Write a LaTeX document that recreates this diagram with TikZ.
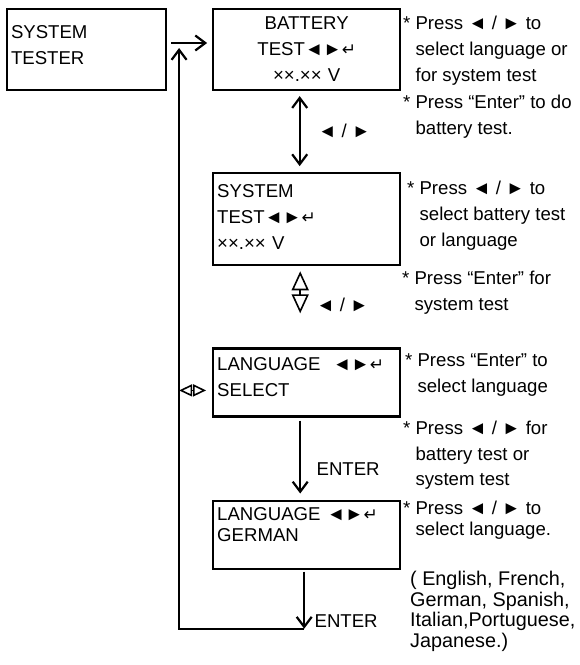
\documentclass[tikz,border=0pt]{standalone}
\usepackage{fontspec}
\setmainfont{Liberation Sans}
\newfontfamily\symfont{DejaVu Sans}
\usetikzlibrary{arrows.meta,positioning}
\newcommand{\kleft}{◄}
\newcommand{\kright}{►}
\newcommand{\kenter}{{\symfont\fontsize{17pt}{17pt}\selectfont ↵}}
\newcommand{\ind}{\hphantom{* }}

\begin{document}
\begin{tikzpicture}[
  x=1pt, y=-1pt,
  font=\fontsize{18.6pt}{26pt}\selectfont,
  node distance=81pt and 45pt,
  screen/.style={draw, line width=2.2pt, minimum height=68pt, text width=179pt, inner xsep=4pt, inner ysep=0pt, align=left},
  note/.style={anchor=north west, align=left, inner sep=0pt},
  arrow/.style={line width=2.2pt, -{Straight Barb[length=10pt,width=15pt]}},
  twoway/.style={line width=2.2pt, {Straight Barb[length=10pt,width=15pt]}-{Straight Barb[length=10pt,width=15pt]}},
  hollow/.style={line width=1.6pt, {Triangle[open,length=19pt,width=17pt]}-{Triangle[open,length=19pt,width=17pt]}},
  hollowh/.style={line width=1.6pt, {Triangle[open,length=13pt,width=12pt]}-{Triangle[open,length=13pt,width=12pt]}}
]
\useasboundingbox (0,0) rectangle (580,665);

% screens
\node[screen, text width=151pt, minimum height=81pt] (tester) at (86.5,49.5) {SYSTEM\\TESTER\\[-17pt]~};
\node[screen, minimum height=81pt, align=center, right=of tester] (battery) {BATTERY\\TEST\kleft\kright\kenter\\××.×× V};
\node[screen, minimum height=92pt, below=of battery] (system) {SYSTEM\\TEST\kleft\kright\kenter\\××.×× V\\[-21pt]~};
\node[screen, below=of system] (langsel) {LANGUAGE~~\kleft\kright\kenter\\SELECT\\[-16pt]~};
\node[screen, below=82pt of langsel, font=\fontsize{18.6pt}{21pt}\selectfont] (langger) {LANGUAGE \kleft\kright\kenter\\GERMAN\\[0pt]~};

% notes
\node[note] (note1a) at (403,16) {* Press \kleft\ / \kright\ to\\\ind select language or\\\ind for system test};
\node[note] (note1b) at (403,95) {* Press “Enter” to do\\\ind battery test.};
\node[note] (note2a) at (407,181) {* Press \kleft\ / \kright\ to\\\ind select battery test\\\ind or language};
\node[note] (note2b) at (402,271) {* Press “Enter” for\\\ind system test};
\node[note] (note3a) at (405,353) {* Press “Enter” to\\\ind select language};
\node[note] (note3b) at (403,421) {* Press \kleft\ / \kright\ for\\\ind battery test or\\[-1pt]\ind system test};
\node[note, font=\fontsize{18.6pt}{20.5pt}\selectfont] (note4a) at (403,501) {* Press \kleft\ / \kright\ to\\\ind select language.};
\node[note, font=\fontsize{19.8pt}{20.7pt}\selectfont] (note4b) at (410,571) {( English, French,\\German, Spanish,\\Italian,Portuguese,\\Japanese.)};

% loop points
\coordinate (rettop) at ([xshift=12pt,yshift=1.5pt]tester.east);
\coordinate (retbot) at ([xshift=-2.5pt,yshift=-59pt]langger.south);
\coordinate (hollowend) at ([xshift=-6.5pt,yshift=-47pt]system.south);
\coordinate (selpt) at ([yshift=-8pt]langsel.west);

% connectors
\draw[arrow] ([xshift=4pt,yshift=6.5pt]tester.east) -- ([xshift=-5pt,yshift=6.5pt]battery.west);
\draw[twoway] ([xshift=-7pt,yshift=-5pt]battery.south) -- ([xshift=-7pt,yshift=6pt]system.north)
  node[midway, right=14pt] (keys1) {\kleft\ / \kright};
\draw[hollow] ([xshift=-6.5pt,yshift=-5pt]system.south) -- (hollowend)
  node[pos=0.8, right=12pt] (keys2) {\kleft\ / \kright};
\draw[arrow] ([xshift=-6.5pt,yshift=-3pt]langsel.south) -- ([xshift=-6.5pt,yshift=6pt]langger.north)
  node[pos=0.66, right=12pt] (enter1) {ENTER};
\draw[arrow, shorten <=2pt] ([xshift=-2.5pt]langger.south) -- (retbot)
  node[at end, anchor=west, xshift=6pt, yshift=8pt] (enter2) {ENTER};
\draw[arrow] (retbot) -| (rettop);
\draw[hollowh] (rettop |- selpt) -- ([xshift=-6pt]selpt);
\end{tikzpicture}
\end{document}
